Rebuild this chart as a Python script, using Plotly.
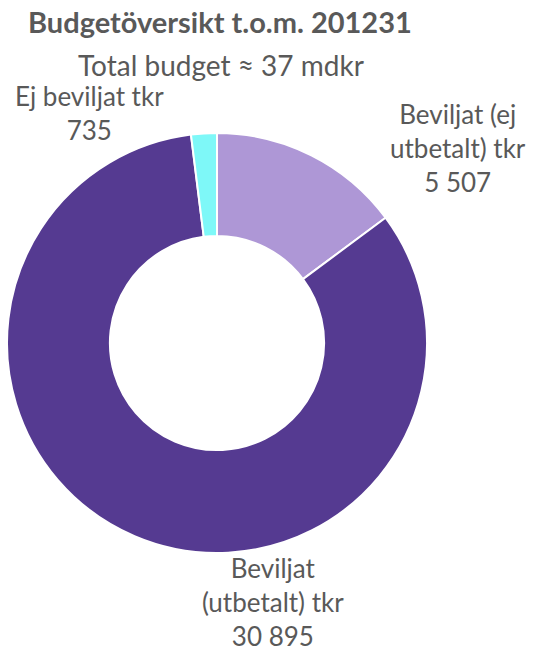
import plotly.graph_objects as go

labels = ["Beviljat (ej<br>utbetalt) tkr", "Beviljat<br>(utbetalt) tkr", "Ej beviljat tkr"]
values = [5507, 30895, 735]
colors = ["#ae97d6", "#553a91", "#7ef8f8"]
title = "Budgetöversikt t.o.m. 201231"
subtitle = "Total budget ≈ 37 mdkr"

def fmt(v):
    return f"{v:,}".replace(",", " ")

FONT = "Lato"
GRAY = "#595959"

fig = go.Figure(go.Pie(
    labels=labels, values=values, hole=0.51, sort=False,
    direction="clockwise", rotation=0,
    marker=dict(colors=colors, line=dict(color="white", width=2)),
    textinfo="none", hoverinfo="label+value", showlegend=False,
    domain=dict(x=[7/533, 427/533], y=[1-553/655, 1-133/655]),
))

# label positions (paper coords) for each slice
label_pos = [(458/533, 1-148/655), (273/533, 1-602/655), (89/533, 1-113/655)]
for lab, val, (x, y) in zip(labels, values, label_pos):
    fig.add_annotation(x=x, y=y, xref="paper", yref="paper", showarrow=False,
                       xanchor="center", yanchor="middle", borderpad=0,
                       text=f"{lab}<br>{fmt(val)}", align="center",
                       font=dict(family=FONT, size=26, color=GRAY))

fig.add_annotation(x=220/533, y=1-22/655, xref="paper", yref="paper", showarrow=False,
                   xanchor="center", yanchor="middle",
                   text=f"<b>{title}</b>", font=dict(family=FONT, size=29, color=GRAY))
fig.add_annotation(x=221/533, y=1-65/655, xref="paper", yref="paper", showarrow=False,
                   xanchor="center", yanchor="middle",
                   text=subtitle, font=dict(family=FONT, size=28, color=GRAY))

fig.update_layout(width=533, height=655, margin=dict(l=0, r=0, t=0, b=0),
                  paper_bgcolor="white", plot_bgcolor="white")
fig.write_html("out.html")
